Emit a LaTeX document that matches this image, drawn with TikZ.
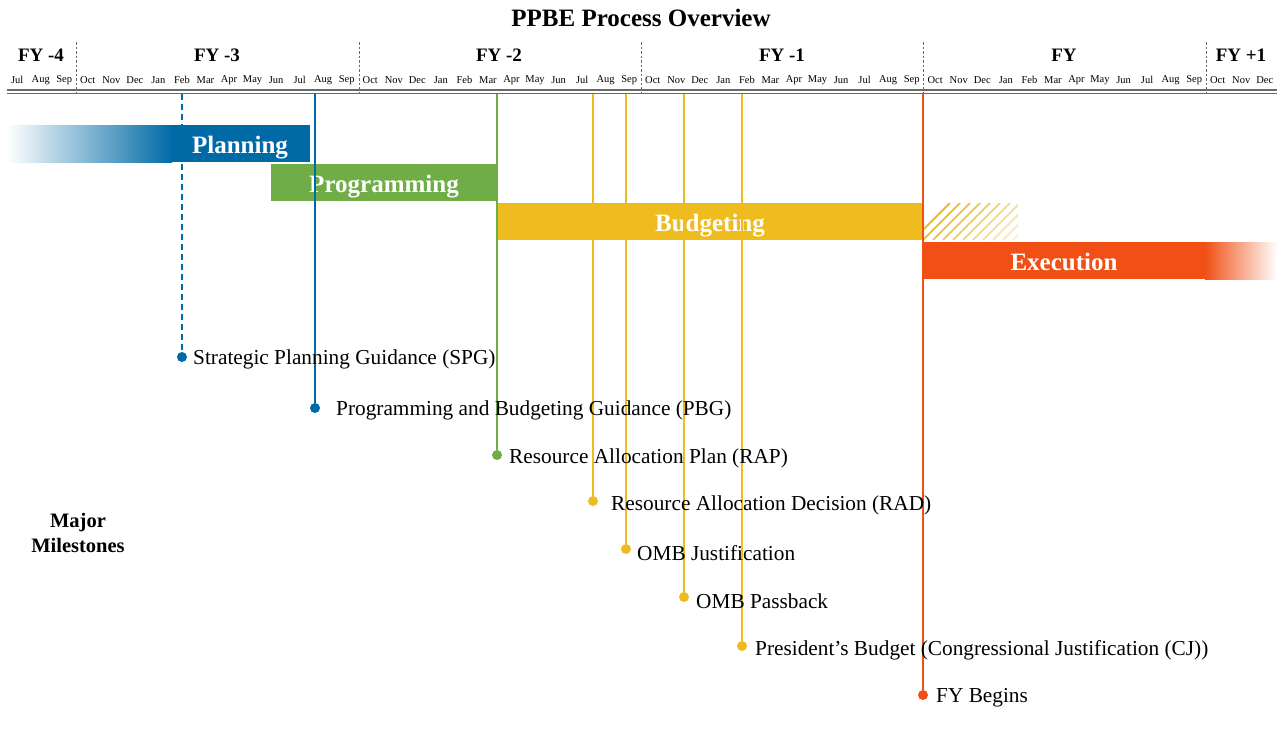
\documentclass[tikz,border=0pt]{standalone}
\usepackage{fontspec}
\setmainfont{Liberation Serif}
\definecolor{planblue}{RGB}{0,106,166}
\definecolor{proggreen}{RGB}{112,173,71}
\definecolor{budgold}{RGB}{238,188,30}
\definecolor{execred}{RGB}{240,80,22}
\definecolor{rulegray}{RGB}{105,105,105}
\tikzset{
  month/.style={font=\fontsize{10.5}{11}\selectfont, inner sep=0pt},
  fylabel/.style={font=\fontsize{19}{20}\selectfont\bfseries, inner sep=0pt},
  fydiv/.style={rulegray, dashed, dash pattern=on 2.5pt off 2pt, line width=0.8pt},
  bartext/.style={white, anchor=base, font=\fontsize{25}{26}\selectfont\bfseries, inner sep=0pt},
  msline/.style={line width=1.4pt},
  msdot/.style={circle, fill, inner sep=0pt, minimum size=10pt},
  mstext/.style={anchor=west, font=\fontsize{21.3}{22}\selectfont, inner sep=0pt},
}
\begin{document}
\begin{tikzpicture}[x=1pt,y=-1pt]
  \useasboundingbox (0,0) rectangle (1285,742);
  \node[font=\fontsize{25}{26}\selectfont\bfseries, inner sep=0pt] (title) at (641,18) {PPBE Process Overview};

  % fiscal years and months
  \foreach \fy/\x in {{FY -4}/41, {FY -3}/217, {FY -2}/499, {FY -1}/782, FY/1064, {FY +1}/1241}
    \node[fylabel] at (\x,55) {\fy};
  \foreach \m [count=\i from 0] in {Jul,Aug,Sep,
      Oct,Nov,Dec,Jan,Feb,Mar,Apr,May,Jun,Jul,Aug,Sep,
      Oct,Nov,Dec,Jan,Feb,Mar,Apr,May,Jun,Jul,Aug,Sep,
      Oct,Nov,Dec,Jan,Feb,Mar,Apr,May,Jun,Jul,Aug,Sep,
      Oct,Nov,Dec,Jan,Feb,Mar,Apr,May,Jun,Jul,Aug,Sep,
      Oct,Nov,Dec}
    \node[month] (m\i) at ({5.4+(\i+0.5)*23.54},80) {\m};
  \foreach \x in {76,359,641,923,1206}
    \draw[fydiv] (\x,42) -- (\x,95);
  \draw[rulegray, line width=1.6pt] (7,90) -- (1277,90);
  \draw[rulegray, line width=1.6pt] (7,93.5) -- (1277,93.5);

  % phase bars
  \shade[left color=white, right color=planblue] (7,125) rectangle (172,162);
  \fill[planblue] (172,125) rectangle (310,162);
  \node[bartext] (plan) at (240,153) {Planning};
  \fill[proggreen] (271,164) rectangle (497,201);
  \node[bartext] (prog) at (384,192) {Programming};
  \fill[budgold] (497,203) rectangle (923,240);
  \node[bartext] (budg) at (710,231) {Budgeting};
  \begin{scope}
    \clip (923,203) rectangle (1018,240);
    \foreach \k in {0,...,13}
      \draw[budgold, line width=2pt, opacity={1-\k/13}] ({913+10*\k},240) -- ({950+10*\k},203);
  \end{scope}
  \fill[execred] (923,242) rectangle (1206,279);
  \shade[left color=execred, right color=white] (1205,242) rectangle (1277,279);
  \node[bartext] (exec) at (1064,270) {Execution};

  % milestones
  \coordinate (spg top) at (182,94);
  \coordinate (pbg top) at (315,94);
  \coordinate (rap top) at (497,94);
  \coordinate (rad top) at (593,94);
  \coordinate (omj top) at (626,94);
  \coordinate (omp top) at (684,94);
  \coordinate (pb top) at (742,94);
  \coordinate (fy top) at (923,94);
  \node[msdot, planblue] (spg) at (182,357) {};
  \node[msdot, planblue] (pbg) at (315,408) {};
  \node[msdot, proggreen] (rap) at (497,455) {};
  \node[msdot, budgold] (rad) at (593,501) {};
  \node[msdot, budgold] (omj) at (626,549) {};
  \node[msdot, budgold] (omp) at (684,597) {};
  \node[msdot, budgold] (pb) at (742,646) {};
  \node[msdot, execred] (fyb) at (923,695) {};
  \draw[msline, planblue, dashed, dash pattern=on 6pt off 4pt] (spg top) -- (spg);
  \draw[msline, planblue] (pbg top) -- (pbg);
  \draw[msline, proggreen] (rap top) -- (rap);
  \draw[msline, budgold] (rad top) -- (rad);
  \draw[msline, budgold] (omj top) -- (omj);
  \draw[msline, budgold] (omp top) -- (omp);
  \draw[msline, budgold] (pb top) -- (pb);
  \draw[msline, execred] (fy top) -- (fyb);
  \node[mstext] at (193,359) {Strategic Planning Guidance (SPG)};
  \node[mstext] at (336,410) {Programming and Budgeting Guidance (PBG)};
  \node[mstext] at (509,458) {Resource Allocation Plan (RAP)};
  \node[mstext] at (611,505) {Resource Allocation Decision (RAD)};
  \node[mstext] at (637,553) {OMB Justification};
  \node[mstext] at (696,601) {OMB Passback};
  \node[mstext] at (755,650) {President’s Budget (Congressional Justification (CJ))};
  \node[mstext] at (936,698) {FY Begins};

  \node[align=center, font=\fontsize{20.5}{25}\selectfont\bfseries, inner sep=0pt] (major) at (78,533) {Major\\Milestones};
\end{tikzpicture}
\end{document}
